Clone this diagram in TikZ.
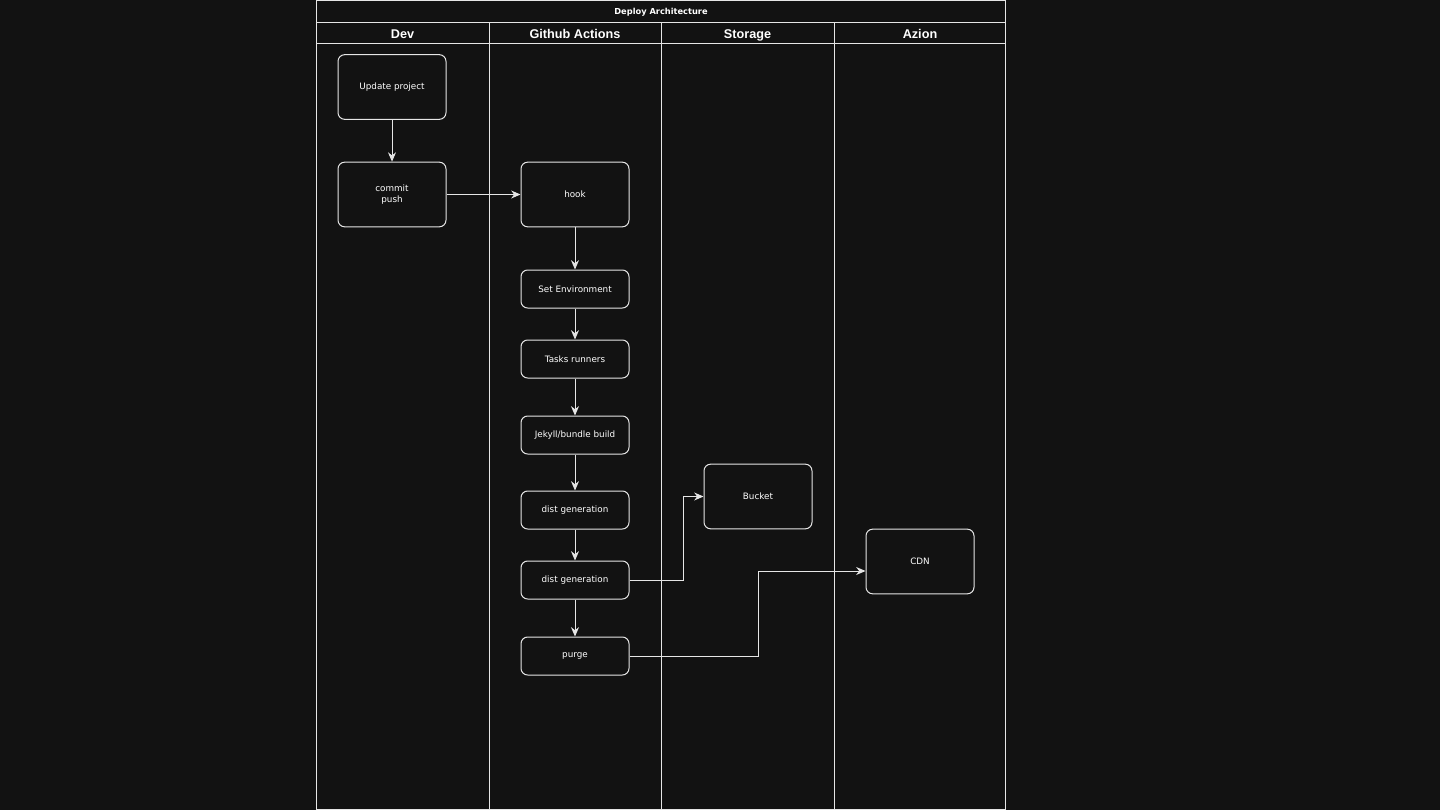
\documentclass[tikz,border=0pt]{standalone}
\usepackage{xcolor}
\usepackage{fontspec}
\setmainfont{DejaVu Sans}
\newfontfamily\headfont{Liberation Sans}
\usepackage{tikz}
\usetikzlibrary{positioning, arrows.meta, calc}

\definecolor{bgdark}{HTML}{121212}
\definecolor{linegray}{HTML}{E6E6E6}

\begin{document}
\begin{tikzpicture}[
    x=0.75pt, y=-0.75pt,
    stage/.style={
        rectangle,
        rounded corners=5pt,
        draw=linegray,
        line width=0.75pt,
        text=white,
        minimum width=81pt,
        minimum height=28.5pt,
        align=center,
        font=\fontsize{6.6}{7.8}\selectfont
    },
    bigstage/.style={
        stage,
        minimum height=48.5pt
    },
    lane/.style={
        draw=linegray,
        line width=0.6pt
    },
    lanetitle/.style={
        text=white,
        anchor=base,
        font=\headfont\bfseries\fontsize{9.5}{11}\selectfont
    },
    arrow/.style={
        draw=linegray,
        line width=0.75pt,
        -{Stealth[length=7pt, width=6pt]}
    }
]

% background and page size
\fill[bgdark] (0,0) rectangle (1440,810);
\useasboundingbox (0,0) rectangle (1440,810);

% swimlanes
\draw[lane] (316.5,0.5) rectangle (1005.5,809.5);
\draw[lane] (316.5,22) -- (1005.5,22);
\draw[lane] (316.5,43.5) -- (1005.5,43.5);
\foreach \lx in {489, 661, 834}
    \draw[lane] (\lx,22) -- (\lx,809.5);

\node[text=white, font=\bfseries\fontsize{6.2}{7}\selectfont] (title) at (661,12) {Deploy Architecture};
\node[lanetitle] (devlane) at (402.5,38) {Dev};
\node[lanetitle] (ghlane) at (575,38) {Github Actions};
\node[lanetitle] (storagelane) at (747.5,38) {Storage};
\node[lanetitle] (azionlane) at (920,38) {Azion};

% Dev
\node[bigstage] (update) at (392,87) {Update project};
\node[bigstage] (commit) at (392,194.5) {commit\\push};

% Github Actions
\node[bigstage] (hook) at (575,194.5) {hook};
\node[stage] (setenv) at (575,289) {Set Environment};
\node[stage] (tasks) at (575,359) {Tasks runners};
\node[stage] (jekyll) at (575,435) {Jekyll/bundle build};
\node[stage] (distgen) at (575,510) {dist generation};
\node[stage] (distupload) at (575,580) {dist generation};
\node[stage] (purge) at (575,656) {purge};

% Storage / Azion
\node[bigstage] (bucket) at (758,496.5) {Bucket};
\node[bigstage] (cdn) at (920,561.5) {CDN};

\draw[arrow] (update) -- (commit);
\draw[arrow] (commit) -- (hook);
\draw[arrow] (hook) -- (setenv);
\draw[arrow] (setenv) -- (tasks);
\draw[arrow] (tasks) -- (jekyll);
\draw[arrow] (jekyll) -- (distgen);
\draw[arrow] (distgen) -- (distupload);
\draw[arrow] (distupload) -- (purge);
\draw[arrow] (distupload.east) -- (683,580) |- (bucket.west);
\coordinate (cdnin) at ($(cdn.west)+(0,9.5)$);
\draw[arrow] (purge.east) -- (758,656) |- (cdnin);

\end{tikzpicture}
\end{document}
